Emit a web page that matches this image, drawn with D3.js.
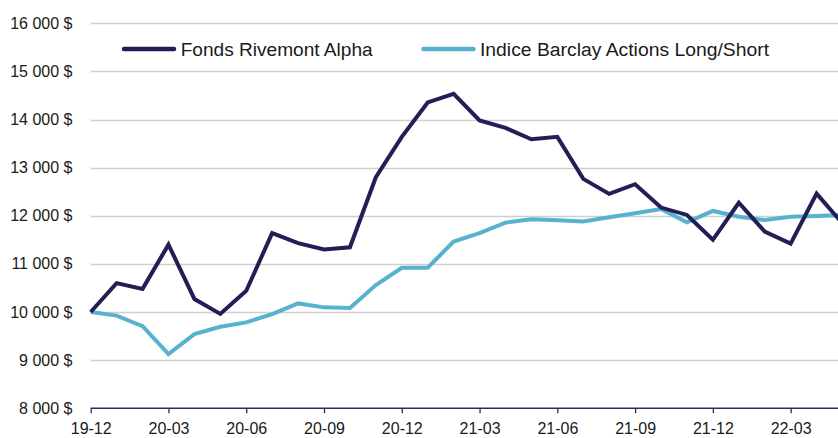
<!DOCTYPE html>
<html>
<head>
<meta charset="utf-8">
<script src="https://cdn.jsdelivr.net/npm/d3@7"></script>
<style>
  body { margin: 0; background: #fff; }
  svg { display: block; }
  text { font-family: "Liberation Sans", Arial, sans-serif; fill: #1a1a1a; }
</style>
</head>
<body>
<div id="chart"></div>
<script>
// month labels (yy-mm), one per data point
var months = ["19-12","20-01","20-02","20-03","20-04","20-05","20-06","20-07","20-08","20-09",
  "20-10","20-11","20-12","21-01","21-02","21-03","21-04","21-05","21-06","21-07",
  "21-08","21-09","21-10","21-11","21-12","22-01","22-02","22-03","22-04","22-05"];

var fondsValues = [10000,10600,10480,11400,10270,9960,10440,11640,11430,11300,
  11345,12800,13640,14355,14535,13980,13825,13590,13640,12766,
  12454,12655,12170,12017,11500,12270,11670,11420,12460,11840];

var indiceValues = [10000,9925,9707,9124,9540,9692,9784,9956,10178,10096,
  10081,10560,10920,10920,11465,11640,11857,11927,11906,11880,
  11967,12050,12141,11863,12100,11980,11910,11980,11994,12017];

var yTicks = [8000,9000,10000,11000,12000,13000,14000,15000,16000];

var seriesNames = ["Fonds Rivemont Alpha","Indice Barclay Actions Long/Short"];
var seriesColors = ["#211f56","#58b2cf"];

var width = 838, height = 438;

var svg = d3.select("#chart").append("svg")
  .attr("width",width)
  .attr("height",height);

// scales
var xScale = d3.scaleLinear()
  .domain([0,months.length-1])
  .range([90.7,842.5]);

var yScale = d3.scaleLinear()
  .domain([8000,16000])
  .range([408.2,23.3]);

// gridlines
svg.append("g")
  .selectAll("line")
  .data(yTicks.filter(d=>d>8000))
  .enter()
  .append("line")
  .attr("x1",90.7)
  .attr("x2",width)
  .attr("y1",d=>Math.round(yScale(d))+0.5)
  .attr("y2",d=>Math.round(yScale(d))+0.5)
  .attr("stroke","#d0d0d0")
  .attr("stroke-width",1.3);

// y labels
svg.append("g")
  .selectAll("text")
  .data(yTicks)
  .enter()
  .append("text")
  .attr("x",72.5)
  .attr("y",d=>yScale(d))
  .attr("dy","0.35em")
  .attr("text-anchor","end")
  .style("font-size","16px")
  .text(d=>d3.format(",")(d).replace(","," ")+" $");

// x axis
var xAxis = d3.axisBottom(xScale)
  .tickValues(d3.range(0,months.length,3))
  .tickFormat(i=>months[i])
  .tickSize(5)
  .tickSizeOuter(0);

var axisG = svg.append("g")
  .attr("transform","translate(0,"+yScale(8000)+")")
  .call(xAxis);
axisG.select(".domain")
  .attr("d","M90.7,0H"+width)
  .attr("stroke","#2b2a66")
  .attr("stroke-width",1.5);
axisG.selectAll(".tick line")
  .attr("stroke","#2b2a66")
  .attr("stroke-width",1.3);
axisG.selectAll(".tick text")
  .attr("y",25.8)
  .attr("dy",0)
  .style("font-size","16px")
  .style("font-family","\"Liberation Sans\", Arial, sans-serif")
  .attr("fill","#1a1a1a");

// lines
var line = d3.line()
  .x((d,i)=>xScale(i))
  .y(d=>yScale(d));

[indiceValues,fondsValues].forEach(function(vals,k){
  var c = k===0 ? seriesColors[1] : seriesColors[0];
  svg.append("path")
    .datum(vals)
    .attr("d",line)
    .attr("fill","none")
    .attr("stroke",c)
    .attr("stroke-width",4)
    .attr("stroke-linejoin","miter")
    .attr("stroke-miterlimit",3);
});

// legend
var legend = [
  {name:seriesNames[0],color:seriesColors[0],x1:124,x2:174,tx:180.7,tw:192},
  {name:seriesNames[1],color:seriesColors[1],x1:423.5,x2:473.5,tx:480,tw:289}
];
var lg = svg.append("g");
legend.forEach(function(l){
  lg.append("line")
    .attr("x1",l.x1).attr("x2",l.x2)
    .attr("y1",49).attr("y2",49)
    .attr("stroke",l.color)
    .attr("stroke-width",4.5)
    .attr("stroke-linecap","round");
  lg.append("text")
    .attr("x",l.tx)
    .attr("y",55.5)
    .style("font-size","18px")
    .attr("textLength",l.tw)
    .attr("lengthAdjust","spacingAndGlyphs")
    .text(l.name);
});
</script>
</body>
</html>
